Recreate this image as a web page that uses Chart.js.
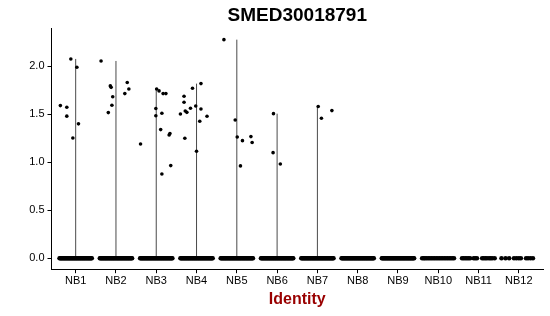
<!DOCTYPE html>
<html>
<head>
<meta charset="utf-8">
<script src="https://cdn.jsdelivr.net/npm/chart.js@4/dist/chart.umd.min.js"></script>
<style>
  html, body { margin: 0; padding: 0; background: #fff; }
  #wrap { width: 550px; height: 316px; }
</style>
</head>
<body>
<div id="wrap"><canvas id="c" width="550" height="316"></canvas></div>
<script>
// ---- data ----
const categories = ['NB1','NB2','NB3','NB4','NB5','NB6','NB7','NB8','NB9','NB10','NB11','NB12'];
const yTicks = [0, 0.5, 1.0, 1.5, 2.0];
const chartTitle = 'SMED30018791';
const xTitle = 'Identity';

// non-zero expression values per identity
const expressedValues = [
  [1.59, 1.573, 1.48, 2.076, 1.253, 1.99, 1.40],
  [2.055, 1.517, 1.795, 1.78, 1.683, 1.594, 1.715, 1.83, 1.763],
  [1.19, 1.56, 1.485, 1.763, 1.743, 1.51, 1.715, 1.715, 1.34, 1.284, 1.30, 0.965, 0.878],
  [1.503, 1.687, 1.625, 1.534, 1.52, 1.562, 1.25, 1.77, 1.586, 1.819, 1.555, 1.427, 1.479, 1.115],
  [2.277, 1.44, 1.263, 1.225, 1.267, 1.205, 0.962],
  [1.506, 1.10, 0.982],
  [1.58, 1.458, 1.538],
  [], [], [], [], []
];
// horizontal jitter of those points (category units)
const expressedJitter = [
  [-0.38, -0.22, -0.22, -0.12, -0.07, 0.03, 0.07],
  [-0.37, -0.19, -0.14, -0.12, -0.08, -0.10, 0.22, 0.28, 0.32],
  [-0.39, -0.01, -0.01, 0.01, 0.07, 0.14, 0.17, 0.24, 0.11, 0.32, 0.34, 0.36, 0.14],
  [-0.40, -0.31, -0.31, -0.28, -0.24, -0.15, -0.29, -0.10, -0.02, 0.11, 0.11, 0.08, 0.26, 0.00],
  [-0.32, -0.04, 0.01, 0.14, 0.35, 0.38, 0.09],
  [-0.09, -0.10, 0.08],
  [0.02, 0.10, 0.36],
  [], [], [], [], []
];
// horizontal jitter of the zero-valued cells
const zeroJitterDense = [-0.40,-0.38,-0.36,-0.34,-0.32,-0.30,-0.28,-0.26,-0.24,-0.22,-0.20,-0.18,-0.16,-0.14,-0.12,-0.10,-0.08,-0.06,-0.04,-0.02,0.00,0.02,0.04,0.06,0.08,0.10,0.12,0.14,0.16,0.18,0.20,0.22,0.24,0.26,0.28,0.30,0.32,0.34,0.36,0.38,0.40];
const zeroJitterNB10 = [-0.40,-0.36,-0.33,-0.29,-0.25,-0.21,-0.17,-0.13,-0.09,-0.05,-0.01,0.03,0.07,0.11,0.15,0.19,0.23,0.27,0.31,0.35,0.39];
const zeroJitterNB11 = [-0.41,-0.37,-0.33,-0.29,-0.25,-0.21,-0.12,-0.08,-0.04,0.09,0.13,0.17,0.21,0.26,0.30,0.34,0.40];
const zeroJitterNB12 = [-0.43,-0.33,-0.24,-0.12,-0.06,0.00,0.05,0.18,0.23,0.29,0.35];
const zeroJitter = [
  zeroJitterDense, zeroJitterDense, zeroJitterDense, zeroJitterDense, zeroJitterDense,
  zeroJitterDense, zeroJitterDense, zeroJitterDense, zeroJitterDense,
  zeroJitterNB10, zeroJitterNB11, zeroJitterNB12
];

// ---- build datasets ----
const FONT = "'Liberation Sans', Arial, Helvetica, sans-serif";
const zeroPoints = [];
const exprPoints = [];
categories.forEach((c, i) => {
  zeroJitter[i].forEach(j => zeroPoints.push({x: i + 1 + j, y: 0}));
  expressedValues[i].forEach((v, k) => exprPoints.push({x: i + 1 + expressedJitter[i][k], y: v}));
});

const violinSets = [];
categories.forEach((c, i) => {
  const vals = expressedValues[i];
  if (!vals.length) return;
  const top = Math.max(...vals);
  violinSets.push({
    type: 'line',
    data: [{x: i + 1, y: 0}, {x: i + 1, y: top}],
    borderColor: '#4a4a4a',
    borderWidth: 1,
    pointRadius: 0,
    fill: false,
    order: 3
  });
});

new Chart(document.getElementById('c'), {
  type: 'scatter',
  data: {
    datasets: [
      {
        data: exprPoints,
        backgroundColor: '#000',
        borderColor: '#000',
        borderWidth: 0,
        pointRadius: 1.8,
        pointHoverRadius: 1.8,
        order: 1
      },
      {
        data: zeroPoints,
        backgroundColor: '#000',
        borderColor: '#000',
        borderWidth: 0,
        pointRadius: 2.3,
        pointHoverRadius: 2.3,
        order: 2
      },
      ...violinSets
    ]
  },
  options: {
    responsive: false,
    animation: false,
    devicePixelRatio: 1,
    layout: { padding: { left: 0, right: 7, top: 0, bottom: 0 } },
    plugins: {
      legend: { display: false },
      tooltip: { enabled: false },
      title: {
        display: true,
        text: chartTitle,
        fullSize: false,
        color: '#000',
        font: { family: FONT, size: 19, weight: 'bold' },
        padding: { top: 4, bottom: 2 }
      }
    },
    scales: {
      x: {
        type: 'linear',
        min: 0.4,
        max: 12.6,
        afterBuildTicks: s => { s.ticks = categories.map((c, i) => ({ value: i + 1 })); },
        afterFit: s => { s.height = 46.8; },
        ticks: {
          autoSkip: false,
          maxRotation: 0,
          color: '#000',
          padding: 1,
          font: { family: FONT, size: 11 },
          callback: v => categories[Math.round(v) - 1]
        },
        grid: { display: true, drawOnChartArea: false, drawTicks: true, tickLength: 4, color: '#000', lineWidth: 1 },
        border: { display: true, color: '#000', width: 1 },
        title: {
          display: true,
          text: xTitle,
          color: '#990000',
          font: { family: FONT, size: 16, weight: 'bold' },
          padding: { top: 0, bottom: 6.4 }
        }
      },
      y: {
        type: 'linear',
        min: -0.114,
        max: 2.39,
        afterBuildTicks: s => { s.ticks = yTicks.map(v => ({ value: v })); },
        afterFit: s => { s.width = 51.5; },
        ticks: {
          color: '#000',
          padding: 3,
          font: { family: FONT, size: 11 },
          callback: v => Number(v).toFixed(1)
        },
        grid: { display: true, drawOnChartArea: false, drawTicks: true, tickLength: 4, color: '#000', lineWidth: 1 },
        border: { display: true, color: '#000', width: 1 }
      }
    }
  }
});
</script>
</body>
</html>
